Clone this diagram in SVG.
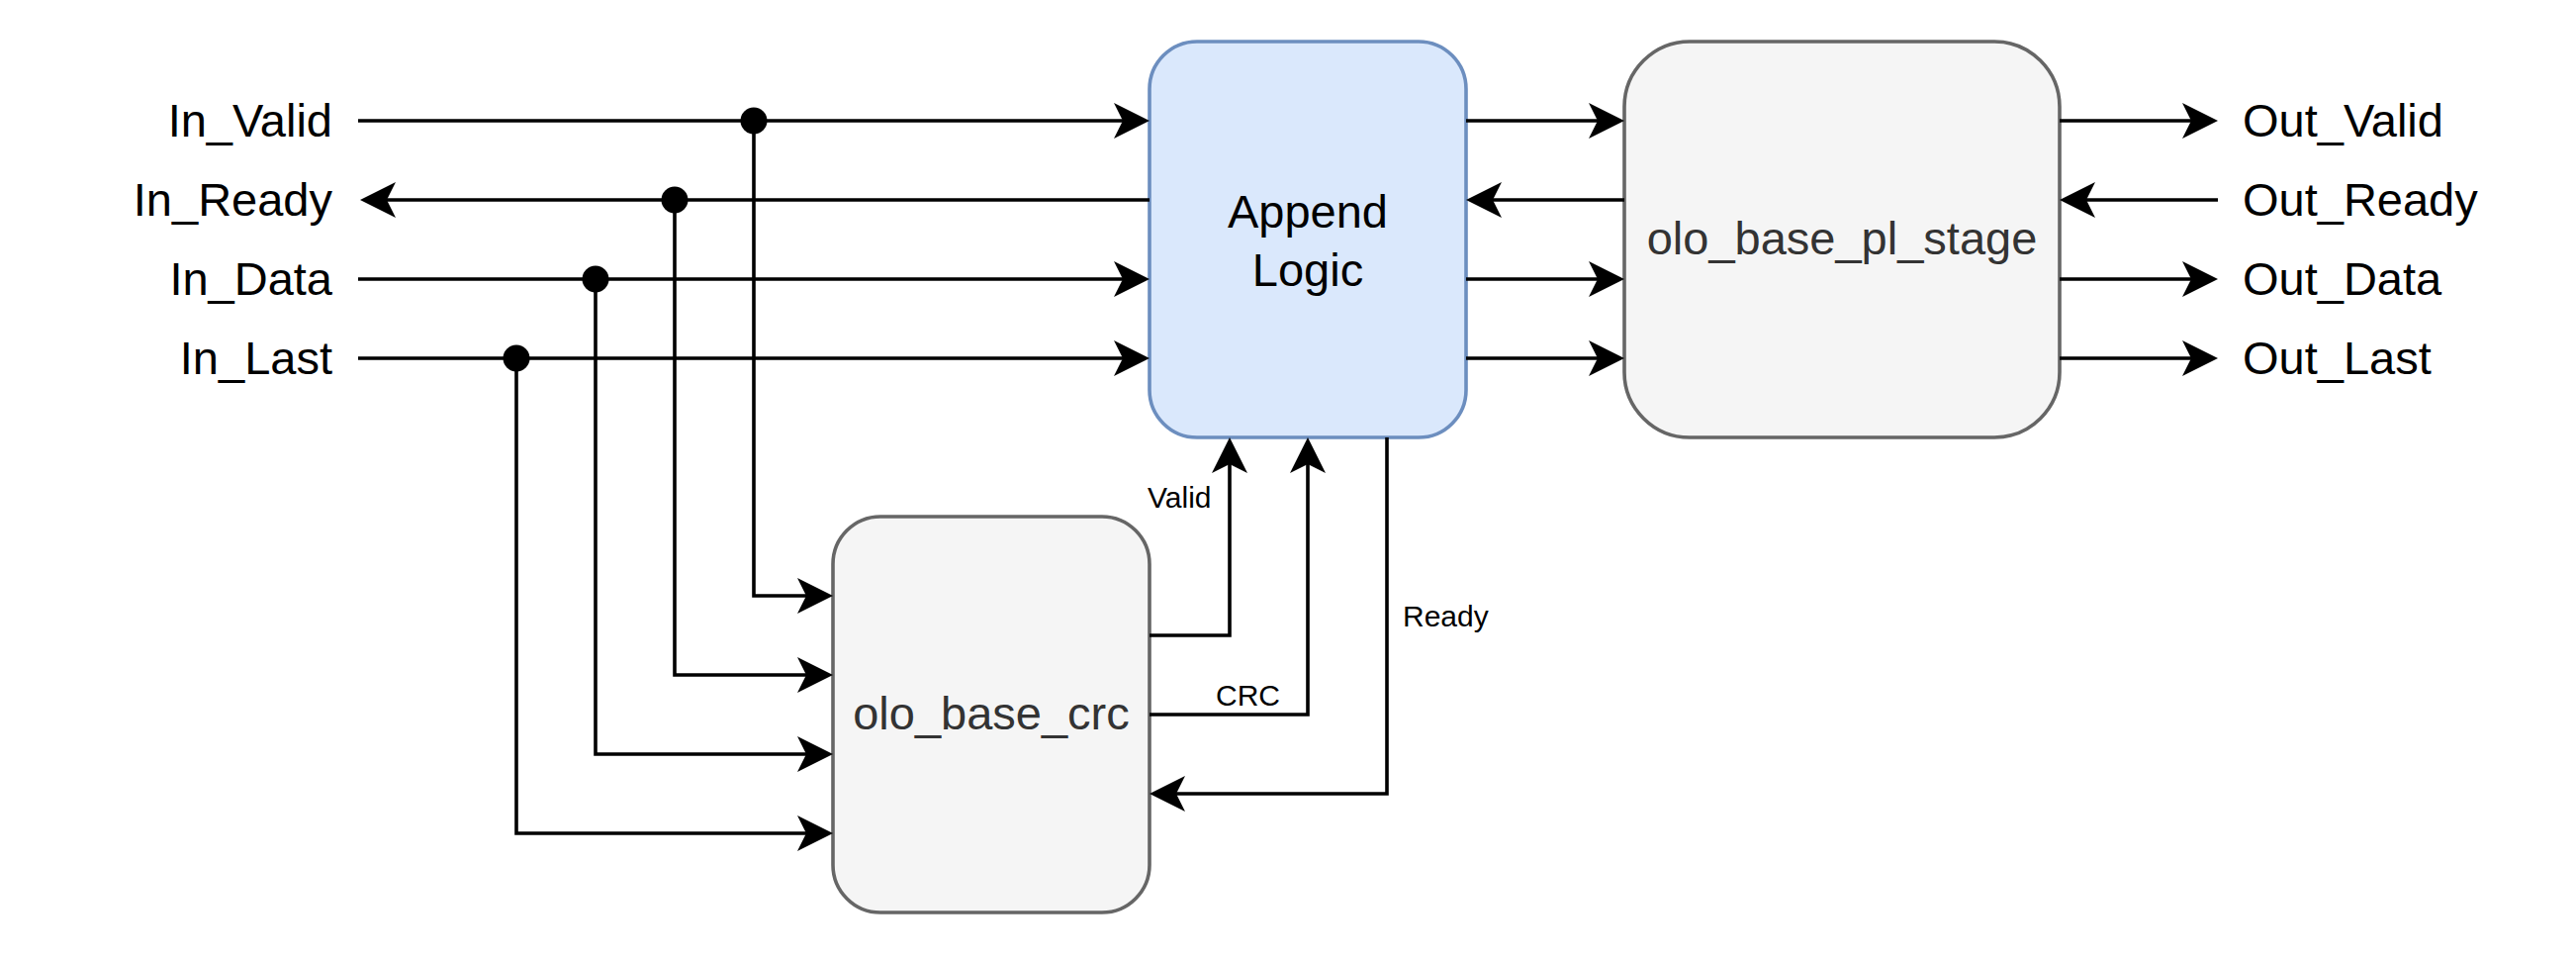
<svg xmlns="http://www.w3.org/2000/svg" width="2604" height="968" viewBox="0 0 2604 968">
<defs>
<style>
.wire{fill:none;stroke:#000;stroke-width:3.6}
.lbl{font-family:"Liberation Sans",Arial,sans-serif;font-size:47px;fill:#000}
.sm{font-family:"Liberation Sans",Arial,sans-serif;font-size:30px;fill:#000}
.blk{font-family:"Liberation Sans",Arial,sans-serif;font-size:47px;text-anchor:middle}
.gray{fill:#f5f5f5;stroke:#666666;stroke-width:3.6}
.blue{fill:#dae8fc;stroke:#6c8ebf;stroke-width:3.6}
</style>
<marker id="arr" viewBox="-30 -20 42 40" refX="0" refY="0" markerWidth="42" markerHeight="40" markerUnits="userSpaceOnUse" orient="auto">
<path d="M10,0 L-26,-18 L-17,0 L-26,18 Z" fill="#000"/>
</marker>
</defs>

<g id="append_logic">
<rect class="blue" x="1162" y="42" width="320" height="400" rx="48" ry="48"/>
<text class="blk" x="1322" y="230" fill="#000">Append</text>
<text class="blk" x="1322" y="289" fill="#000">Logic</text>
</g>

<g id="olo_base_crc">
<rect class="gray" x="842" y="522" width="320" height="400" rx="48" ry="48"/>
<text class="blk" x="1002" y="737" fill="#333333">olo_base_crc</text>
</g>

<g id="olo_base_pl_stage">
<rect class="gray" x="1642" y="42" width="440" height="400" rx="66" ry="66"/>
<text class="blk" x="1862" y="257" fill="#333333">olo_base_pl_stage</text>
</g>

<g id="labels">
<text class="lbl" x="336" y="138" text-anchor="end">In_Valid</text>
<text class="lbl" x="336" y="218" text-anchor="end">In_Ready</text>
<text class="lbl" x="336" y="298" text-anchor="end">In_Data</text>
<text class="lbl" x="336" y="378" text-anchor="end">In_Last</text>
<text class="lbl" x="2267" y="138">Out_Valid</text>
<text class="lbl" x="2267" y="218">Out_Ready</text>
<text class="lbl" x="2267" y="298">Out_Data</text>
<text class="lbl" x="2267" y="378">Out_Last</text>
</g>

<g id="connectors">
<path class="wire" d="M362,122 H1152" marker-end="url(#arr)"/>
<path class="wire" d="M1162,202 H374" marker-end="url(#arr)"/>
<path class="wire" d="M362,282 H1152" marker-end="url(#arr)"/>
<path class="wire" d="M362,362 H1152" marker-end="url(#arr)"/>
<path class="wire" d="M762,122 V602 H832" marker-end="url(#arr)"/>
<path class="wire" d="M682,202 V682 H832" marker-end="url(#arr)"/>
<path class="wire" d="M602,282 V762 H832" marker-end="url(#arr)"/>
<path class="wire" d="M522,362 V842 H832" marker-end="url(#arr)"/>
<circle cx="762" cy="122" r="13.5" fill="#000"/>
<circle cx="682" cy="202" r="13.5" fill="#000"/>
<circle cx="602" cy="282" r="13.5" fill="#000"/>
<circle cx="522" cy="362" r="13.5" fill="#000"/>
<path class="wire" d="M1162,642 H1243 V452" marker-end="url(#arr)"/>
<path class="wire" d="M1162,722 H1322 V452" marker-end="url(#arr)"/>
<path class="wire" d="M1402,442 V802 H1172" marker-end="url(#arr)"/>
<path class="wire" d="M1482,122 H1632" marker-end="url(#arr)"/>
<path class="wire" d="M1642,202 H1492" marker-end="url(#arr)"/>
<path class="wire" d="M1482,282 H1632" marker-end="url(#arr)"/>
<path class="wire" d="M1482,362 H1632" marker-end="url(#arr)"/>
<path class="wire" d="M2082,122 H2232" marker-end="url(#arr)"/>
<path class="wire" d="M2242,202 H2092" marker-end="url(#arr)"/>
<path class="wire" d="M2082,282 H2232" marker-end="url(#arr)"/>
<path class="wire" d="M2082,362 H2232" marker-end="url(#arr)"/>
<text class="sm" x="1160" y="513">Valid</text>
<text class="sm" x="1229" y="713">CRC</text>
<text class="sm" x="1418" y="633">Ready</text>
</g>
</svg>
